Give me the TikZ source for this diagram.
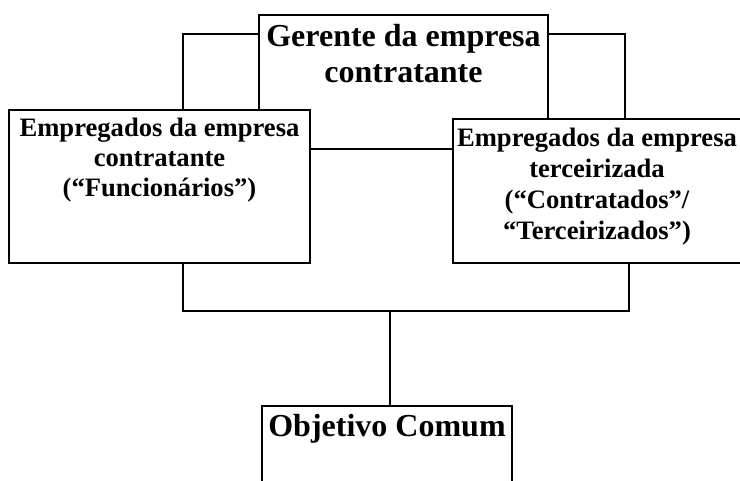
\documentclass[tikz,border=0pt]{standalone}
\usepackage{fontspec}
\setmainfont{Liberation Serif}
\usetikzlibrary{positioning}
\tikzset{
    caixa/.style={draw, fill=white, line width=1.5pt, inner sep=0pt, outer sep=0pt, anchor=north west},
    grande/.style={font=\fontsize{32}{36}\selectfont\bfseries, align=center, inner sep=0pt, anchor=base},
    media/.style={font=\fontsize{26.6}{30}\selectfont\bfseries, align=center, inner sep=0pt, anchor=base},
    liga/.style={line width=1.5pt}
}
\begin{document}
\begin{tikzpicture}[x=1pt, y=-1pt]
                \useasboundingbox (0,0) rectangle (740,481);
                % caixa do gerente, o fundo fica escondido pelas outras
                \node[caixa, minimum width=289pt, minimum height=134pt] (gerente) at (259,15) {};
                % o base dos textos fica na ultima linha
                \node[grande] (tGerente) at (403.5,82.7) {Gerente da empresa\\contratante};
                \coordinate (jE) at (183,34);
                \coordinate (jD) at (625,34);
                \coordinate (baseE) at (183,311);
                \coordinate (baseD) at (629,311);
                \coordinate (meio) at (390,311);
                % empregados
                \node[caixa, minimum width=301pt, minimum height=153pt] (funcionarios) at (9,110) {};
                \node[media] (tFuncionarios) at (159.5,197) {Empregados da empresa\\contratante\\(“Funcionários”)};
                \node[caixa, minimum width=292pt, minimum height=144pt] (terceirizados) at (453,119) {};
                \node[media, font=\fontsize{26.6}{31.3}\selectfont\bfseries] (tTerceirizados) at (597,240) {Empregados da empresa\\terceirizada\\(“Contratados”/\\“Terceirizados”)};
                \node[caixa, minimum width=250pt, minimum height=154pt] (objetivo) at (262,406) {};
                \node[grande] (tObjetivo) at (387,437) {Objetivo Comum};
                % ligacoes
                \draw[liga] (gerente.west |- jE) -- (jE) -- (jE |- funcionarios.north);
                \draw[liga] (gerente.east |- jD) -- (jD) -- (jD |- terceirizados.north);
                \draw[liga] (baseE |- funcionarios.south) -- (baseE) -- (baseD) -- (baseD |- terceirizados.south);
                \draw[liga] (meio) -- (meio |- objetivo.north);
\end{tikzpicture}
\end{document}
